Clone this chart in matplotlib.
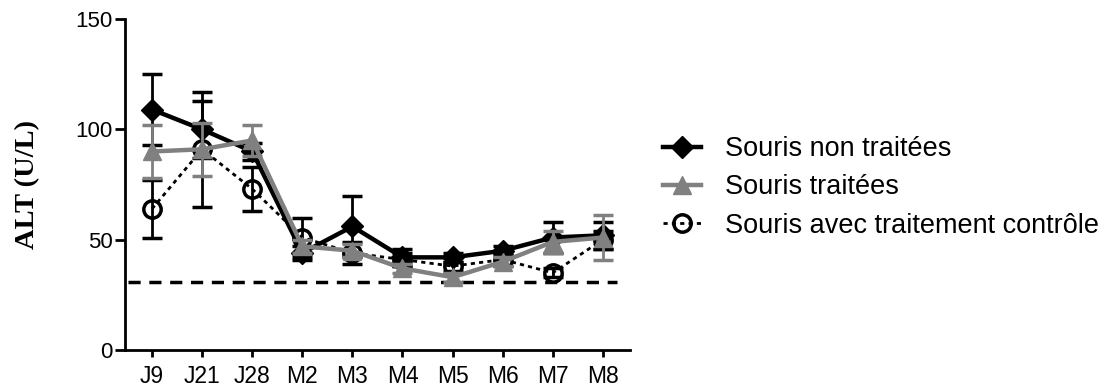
import matplotlib
matplotlib.use('Agg')
import matplotlib.pyplot as plt
from matplotlib.lines import Line2D
import numpy as np

timepoints = ['J9', 'J21', 'J28', 'M2', 'M3', 'M4', 'M5', 'M6', 'M7', 'M8']

non_traitees = [109, 100, 90, 44, 56, 42, 42, 45, 51, 52]
non_traitees_err = [16, 13, 4, 3, 14, 4, 2, 2, 7, 6]

traitees = [90, 91, 95, 47, 45, 37, 33, 40, 49, 51]
traitees_err = [12, 12, 7, 3, 3, 2, 2, 2, 5, 10]

controle = [64, 91, 73, 51, 44, 41, 38, 41, 35, 50]
controle_err = [13, 26, 10, 9, 5, 3, 2, 3, 2, 4]

seuil = 31

plt.rcParams['font.family'] = ['Liberation Sans', 'DejaVu Sans']

fig = plt.figure(figsize=(11.09, 3.87), dpi=100)
ax = fig.add_axes([0.1127, 0.0956, 0.4553, 0.855])

x = np.arange(len(timepoints))
gray = '#808080'

style_ctrl = dict(color='black', linestyle=(0, (1.5, 1.5)), linewidth=2, marker='o',
                  markersize=12.5, markerfacecolor='none', markeredgewidth=2.5)
style_non = dict(color='black', linewidth=3.2, marker='D', markersize=11)
style_tr = dict(color=gray, linewidth=3.2, marker='^', markersize=13)

ax.errorbar(x, controle, yerr=controle_err, capsize=7, capthick=2.5, elinewidth=2,
            zorder=3, **style_ctrl)
ax.errorbar(x, non_traitees, yerr=non_traitees_err, capsize=7, capthick=2.5,
            elinewidth=2, zorder=4, **style_non)
ax.errorbar(x, traitees, yerr=traitees_err, capsize=7, capthick=2.5, elinewidth=2,
            zorder=5, **style_tr)

ax.axhline(seuil, xmin=0.005, xmax=0.975, color='black', linewidth=2.5,
           linestyle=(0, (3.5, 2.5)), zorder=2)

ax.set_xlim(-0.54, 9.54)
ax.set_ylim(0, 150)
ax.set_yticks([0, 50, 100, 150])
ax.set_xticks(x)
ax.set_xticklabels(timepoints)
ax.tick_params(width=2, direction='out')
ax.tick_params(axis='y', labelsize=16, length=7, pad=2)
ax.tick_params(axis='x', labelsize=16.5, length=5, pad=6)
for side in ['top', 'right']:
    ax.spines[side].set_visible(False)
for side in ['left', 'bottom']:
    ax.spines[side].set_linewidth(2)

fig.text(0.0248, 0.523, 'ALT (U/L)', rotation=90, ha='center', va='center',
         fontfamily='Liberation Serif', fontweight='bold', fontsize=20.5)

handles = [Line2D([], [], **style_non), Line2D([], [], **style_tr),
           Line2D([], [], **style_ctrl)]
labels = ['Souris non traitées', 'Souris traitées', 'Souris avec traitement contrôle']
fig.legend(handles, labels, loc='center left', bbox_to_anchor=(663 / 1109, 1 - 187.5 / 387),
           frameon=False, borderpad=0, borderaxespad=0, fontsize=19.5,
           handlelength=1.4, handletextpad=0.9, labelspacing=0.45)

fig.savefig('out.png', dpi=100)
